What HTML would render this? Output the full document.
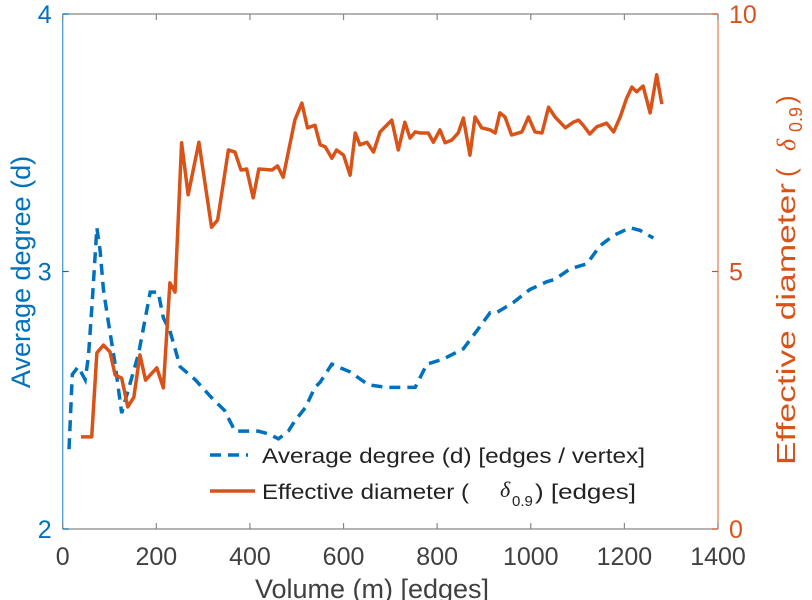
<!DOCTYPE html>
<html><head><meta charset="utf-8"><style>
html,body{margin:0;padding:0;background:#fff;}
svg{display:block;font-family:"Liberation Sans",sans-serif;}
</style></head><body>
<svg id="chart" width="812" height="600" viewBox="0 0 812 600"></svg>
<script>
const xTicks=[0,200,400,600,800,1000,1200,1400];
const leftTicks=[2,3,4];
const rightTicks=[0,5,10];
const degX=[13.5,20.5,33,48,55,63,73,80,87,97,112,126,140,162,187,204,215,229,251,283,318,346,368,382,418,439,461,482,496,518,539,550,575,614,653,692,728,753,778,813,856,885,913,927,963,998,1034,1052,1084,1120,1148,1177,1212,1233,1262];
const degY=[2.31,2.60,2.63,2.58,2.67,2.88,3.17,3.08,2.93,2.81,2.64,2.45,2.54,2.68,2.92,2.92,2.82,2.77,2.63,2.58,2.51,2.46,2.38,2.38,2.38,2.37,2.35,2.38,2.42,2.47,2.55,2.57,2.64,2.61,2.56,2.55,2.55,2.55,2.64,2.66,2.70,2.77,2.84,2.84,2.88,2.93,2.96,2.97,3.01,3.03,3.10,3.14,3.17,3.16,3.13];
const diaX=[39,62,73,87,101,112,126,139,152,165,177,201,215,229,240,254,268,291,318,331,354,368,381,393,407,419,447,459,471,496,511,523,539,550,561,575,585,600,614,625,635,650,664,678,703,717,731,742,753,763,781,792,806,817,831,845,856,870,881,895,913,924,934,945,959,981,995,1009,1024,1038,1052,1074,1091,1102,1112,1126,1141,1162,1177,1191,1205,1216,1226,1240,1255,1269,1280];
const diaY=[1.79,1.79,3.42,3.57,3.44,2.99,2.93,2.37,2.56,3.38,2.89,3.13,2.74,4.78,4.60,7.50,6.49,7.51,5.86,6.00,7.36,7.32,6.97,6.99,6.43,6.99,6.97,7.05,6.83,7.94,8.27,7.79,7.84,7.46,7.42,7.20,7.36,7.26,6.87,7.69,7.46,7.51,7.32,7.71,7.94,7.36,7.90,7.59,7.71,7.69,7.69,7.51,7.75,7.50,7.55,7.69,7.98,7.26,8.00,7.79,7.75,7.69,8.08,8.00,7.65,7.71,8.00,7.71,7.69,8.19,8.00,7.79,7.90,7.94,7.84,7.67,7.81,7.88,7.71,8.00,8.37,8.58,8.49,8.60,8.08,8.82,8.25];

const L=62.7,R=718,T=14,B=529;
const BLUE='#0072BD',ORANGE='#D95319';
const sx=v=>L+v/1400*(R-L);
const syL=v=>B-(v-2)/2*(B-T);
const syR=v=>B-v/10*(B-T);
const svg=document.getElementById('chart');
const NS='http://www.w3.org/2000/svg';
function mk(tag,attrs,text){const e=document.createElementNS(NS,tag);for(const k in attrs)e.setAttribute(k,attrs[k]);if(text!==undefined)e.textContent=text;svg.appendChild(e);return e;}

let e=mk('line',{x1:L,y1:T,x2:R,y2:T,stroke:'#888',"stroke-width":1.3});


e=mk('line',{x1:L,y1:B,x2:R,y2:B,stroke:'#888',"stroke-width":1.3});


e=mk('line',{x1:L,y1:T,x2:L,y2:B,stroke:BLUE,"stroke-width":1.3,opacity:0.7});


e=mk('line',{x1:R,y1:T,x2:R,y2:B,stroke:ORANGE,"stroke-width":1.3,opacity:0.7});



xTicks.forEach(t=>{
  const x=sx(t);
  let l=mk('line',{x1:x,y1:B,x2:x,y2:B-6,stroke:'#888',"stroke-width":1.2});
  
  
  l=mk('line',{x1:x,y1:T,x2:x,y2:T+6,stroke:'#888',"stroke-width":1.2});
  
  
  const tx=mk('text',{x:x,y:565,"text-anchor":"middle","font-size":25,fill:'#404040'},String(t));
  
  
});
leftTicks.forEach(t=>{
  const y=syL(t);
  const l=mk('line',{x1:L,y1:y,x2:L+6,y2:y,stroke:BLUE,"stroke-width":1.2});
  
  
  const tx=mk('text',{x:L-11,y:y+9,"text-anchor":"end","font-size":25,fill:BLUE},String(t));
  
  
});
rightTicks.forEach(t=>{
  const y=syR(t);
  const l=mk('line',{x1:R,y1:y,x2:R-6,y2:y,stroke:ORANGE,"stroke-width":1.2});
  
  
  const tx=mk('text',{x:R+11,y:y+9,"text-anchor":"start","font-size":25,fill:ORANGE},String(t));
  
  
});

let p=mk('polyline',{points:degX.map((v,i)=>sx(v)+','+syL(degY[i])).join(' '),fill:'none',stroke:BLUE,"stroke-width":3.5,"stroke-dasharray":"11 7"});


p=mk('polyline',{points:diaX.map((v,i)=>sx(v)+','+syR(diaY[i])).join(' '),fill:'none',stroke:ORANGE,"stroke-width":3.5,"stroke-linejoin":"round"});



let t=mk('text',{x:372,y:598,"text-anchor":"middle","font-size":27,fill:'#404040'},'Volume (m) [edges]');


t=mk('text',{x:0,y:0,"text-anchor":"middle","font-size":27,fill:BLUE,transform:'translate(30,272) rotate(-90)'},'Average degree (d)');


t=mk('text',{x:0,y:0,"font-size":26,fill:ORANGE,transform:'translate(795,465) rotate(-90)',textLength:282,lengthAdjust:'spacingAndGlyphs'},'Effective diameter');


t=mk('text',{x:0,y:0,"font-size":26,fill:ORANGE,transform:'translate(795,177) rotate(-90)'},'(');


t=mk('text',{x:0,y:0,"font-size":26,fill:ORANGE,transform:'translate(795,151) rotate(-90)',"font-style":"italic","font-family":"Liberation Serif, serif"},'δ');


t=mk('text',{x:0,y:0,"font-size":18,fill:ORANGE,transform:'translate(802,132) rotate(-90)'},'0.9');


t=mk('text',{x:0,y:0,"font-size":26,fill:ORANGE,transform:'translate(795,104) rotate(-90)'},')');



let g=mk('line',{x1:210,y1:455,x2:248,y2:455,stroke:BLUE,"stroke-width":3.5,"stroke-dasharray":"11 7"});


g=mk('text',{x:262,y:463,"font-size":21,fill:'#222',textLength:383,lengthAdjust:'spacingAndGlyphs'},'Average degree (d) [edges / vertex]');


g=mk('line',{x1:210,y1:491,x2:255,y2:491,stroke:ORANGE,"stroke-width":3.5});


g=mk('text',{x:262,y:499,"font-size":21,fill:'#222',textLength:207,lengthAdjust:'spacingAndGlyphs'},'Effective diameter (');


g=mk('text',{x:500,y:497,"font-size":22,fill:'#222',"font-style":"italic","font-family":"Liberation Serif, serif"},'δ');


g=mk('text',{x:512,y:506,"font-size":15,fill:'#222'},'0.9');


g=mk('text',{x:535,y:499,"font-size":21,fill:'#222',textLength:101,lengthAdjust:'spacingAndGlyphs'},') [edges]');


</script>
</body></html>
